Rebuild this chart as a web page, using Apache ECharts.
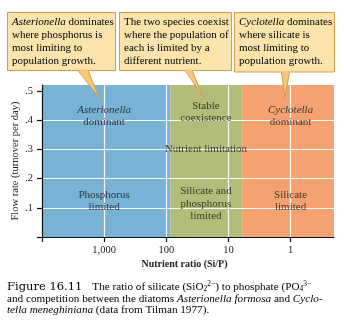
<!DOCTYPE html>
<html><head><meta charset="utf-8">
<script src="https://cdn.jsdelivr.net/npm/echarts@6/dist/echarts.min.js"></script>
<style>html,body{margin:0;padding:0;background:#fff}#c{width:344px;height:332px}</style>
</head><body><div id="c"></div>
<script>
// ---- data ----
const ratioTicks = [10000, 1000, 100, 10, 1];          // Si/P ratio tick values
const ratioTickLabels = ['', '1,000', '100', '10', '1'];
const ratioExtent = [10000, 0.2];                      // left edge, right edge
const flowTicks = [0, 0.1, 0.2, 0.3, 0.4, 0.5];
const flowTickLabels = ['', '.1', '.2', '.3', '.4', '.5'];
const flowMax = 0.52;
const regionNames = ['Asterionella dominant', 'Stable coexistence', 'Cyclotella dominant'];
const regionBounds = [10000, 86, 6, 0.2];              // Si/P boundaries between regions
const gridRatios = [1000, 100, 10, 1];
const gridFlows = [0.1, 0.2, 0.3, 0.4];
const labelRatios = [1000, 1000, 23, 23, 23, 1, 1];
const labelFlows = [0.414, 0.123, 0.427, 0.30, 0.113, 0.414, 0.123];
const labelTexts = [
  '{i|Asterionella}\ndominant',
  'Phosphorus\nlimited',
  'Stable\ncoexistence',
  'Nutrient limitation',
  'Silicate and\nphosphorus\nlimited',
  '{i|Cyclotella}\ndominant',
  'Silicate\nlimited'
];
const calloutTexts = [
  '{i|Asterionella} dominates\nwhere phosphorus is\nmost limiting to\npopulation growth.',
  'The two species coexist\nwhere the population of\neach is limited by a\ndifferent nutrient.',
  '{i|Cyclotella} dominates\nwhere silicate is\nmost limiting to\npopulation growth.'
];

// ---- styles ----
const SERIF = '"Liberation Serif","DejaVu Serif",serif';
const regionColors = ['#78b2d5', '#b4bc7a', '#f4a370'];
const lg = Math.log10;

const el = document.getElementById('c');
const chart = echarts.init(el, null, {renderer: 'canvas'});

const txt = {fontFamily: SERIF, fontSize: 11, color: '#151515', lineHeight: 12.5};
const rich = {i: Object.assign({}, txt, {fontStyle: 'italic'})};

// callout layout (annotation boxes, pixels)
const boxes = [
  {x: 7, y: 12, w: 108, h: 58, tx: 12, base: [78, 88], tip: [99, 97.5]},
  {x: 119, y: 12, w: 112, h: 58, tx: 124, base: [185, 192], tip: [203, 96.5]},
  {x: 234, y: 12, w: 100, h: 59.5, tx: 239, base: [281.5, 289.5], tip: [285, 98]}
];
const graphics = [];
const boxTxt = Object.assign({}, txt, {fontSize: 11, lineHeight: 13});
boxes.forEach((b, k) => {
  const bottom = b.y + b.h;
  graphics.push({type: 'rect', shape: {x: b.x + 0.5, y: b.y + 0.5, width: b.w, height: b.h},
    style: {fill: '#fae4ab', stroke: '#d49c4c', lineWidth: 1}, z: 10});
  graphics.push({type: 'polygon', shape: {points: [[b.base[0], bottom - 0.5], b.tip, [b.base[1], bottom - 0.5]]},
    style: {fill: '#f4c874'}, z: 11});
  graphics.push({type: 'polyline', shape: {points: [[b.base[0], bottom + 0.5], b.tip, [b.base[1], bottom + 0.5]]},
    style: {stroke: '#d49c4c', lineWidth: 1, fill: null}, z: 12});
  graphics.push({type: 'text', x: b.tx, y: b.y + 4, z: 13,
    style: Object.assign({text: calloutTexts[k], rich: {i: Object.assign({}, boxTxt, {fontStyle: 'italic'})}}, boxTxt)});
});
// caption
const cap = {fontFamily: SERIF, fontSize: 11.2, color: '#222', lineHeight: 11.5};
graphics.push({type: 'text', x: 7, y: 280, z: 13, style: {
  text: '{f|Figure 16.11}   {t|The ratio of silicate (SiO}{sub|2}{sup|2−}{t|) to phosphate (PO}{sub|4}{sup|3−}',
  rich: {
    f: {fontFamily: '"DejaVu Serif",serif', fontSize: 11.5, color: '#2b6ca8', lineHeight: 14},
    t: cap,
    sub: Object.assign({}, cap, {fontSize: 7.5, lineHeight: 9, padding: [5, 0, 0, 0]}),
    sup: Object.assign({}, cap, {fontSize: 7.5, lineHeight: 9, padding: [0, 0, 6, 0]})
  }}});
graphics.push({type: 'text', x: 7, y: 293, z: 13, style: Object.assign({
  text: 'and competition between the diatoms {i|Asterionella formosa} and {i|Cyclo-}\n{i|tella meneghiniana} (data from Tilman 1977).',
  rich: {i: Object.assign({}, cap, {fontStyle: 'italic'})}}, cap)});

const option = {
  animation: false,
  backgroundColor: '#fff',
  grid: {left: 42, right: 10, top: 85, bottom: 95, containLabel: false, outerBoundsMode: 'none'},
  xAxis: {
    type: 'value', inverse: true,
    min: lg(ratioExtent[1]), max: lg(ratioExtent[0]),
    z: 6,
    axisLine: {show: true, onZero: false, lineStyle: {color: '#111', width: 1.2}},
    axisTick: {show: true, length: 5, lineStyle: {color: '#111', width: 1.2}, customValues: ratioTicks.map(lg)},
    axisLabel: {show: true, margin: 8, customValues: ratioTicks.map(lg),
      formatter: v => { const i = ratioTicks.findIndex(t => Math.abs(lg(t) - v) < 1e-6); return i >= 0 ? ratioTickLabels[i] : ''; },
      fontFamily: SERIF, fontSize: 10.5, color: '#222'},
    splitLine: {show: false},
    name: 'Nutrient ratio (Si/P)', nameLocation: 'middle', nameGap: 22, nameMoveOverlap: false,
    nameTextStyle: {fontFamily: SERIF, fontSize: 10, color: '#222', fontWeight: 'bold', padding: [0, 7, 0, 0]}
  },
  yAxis: {
    type: 'value', min: 0, max: flowMax,
    z: 6,
    axisLine: {show: true, onZero: false, lineStyle: {color: '#111', width: 1.2}},
    axisTick: {show: true, length: 5, lineStyle: {color: '#111', width: 1.2}, customValues: flowTicks},
    axisLabel: {show: true, margin: 9, customValues: flowTicks,
      formatter: v => { const i = flowTicks.findIndex(t => Math.abs(t - v) < 1e-6); return i >= 0 ? flowTickLabels[i] : ''; },
      fontFamily: SERIF, fontSize: 10.5, color: '#222'},
    splitLine: {show: false},
    name: 'Flow rate (turnover per day)', nameLocation: 'middle', nameGap: 21, nameMoveOverlap: false,
    nameTextStyle: {fontFamily: SERIF, fontSize: 10.5, color: '#222'}
  },
  series: [
    {
      type: 'line', data: [], z: 1, silent: true,
      markArea: {silent: true, z: 1, data: regionNames.map((n, i) => [
        {name: n, xAxis: lg(regionBounds[i]), yAxis: 0, itemStyle: {color: regionColors[i], opacity: 1}, label: {show: false}},
        {xAxis: lg(regionBounds[i + 1]), yAxis: flowMax}
      ])}
    },
    {
      type: 'line', data: [], z: 2, silent: true,
      markLine: {silent: true, z: 2, symbol: ['none', 'none'], label: {show: false}, animation: false,
        lineStyle: {color: '#ffffff', width: 1.2, type: 'solid', opacity: 0.95},
        data: gridRatios.map(r => ({xAxis: lg(r)})).concat(gridFlows.map(f => ({yAxis: f})))}
    },
    {
      type: 'scatter', z: 4, silent: true, symbolSize: 0,
      data: labelTexts.map((t, i) => ({value: [lg(labelRatios[i]), labelFlows[i]], name: t})),
      label: Object.assign({show: true, position: 'inside', align: 'center', verticalAlign: 'middle',
        formatter: p => p.name, rich: rich}, txt)
    }
  ],
  graphic: graphics
};
chart.setOption(option);
</script>
</body></html>
